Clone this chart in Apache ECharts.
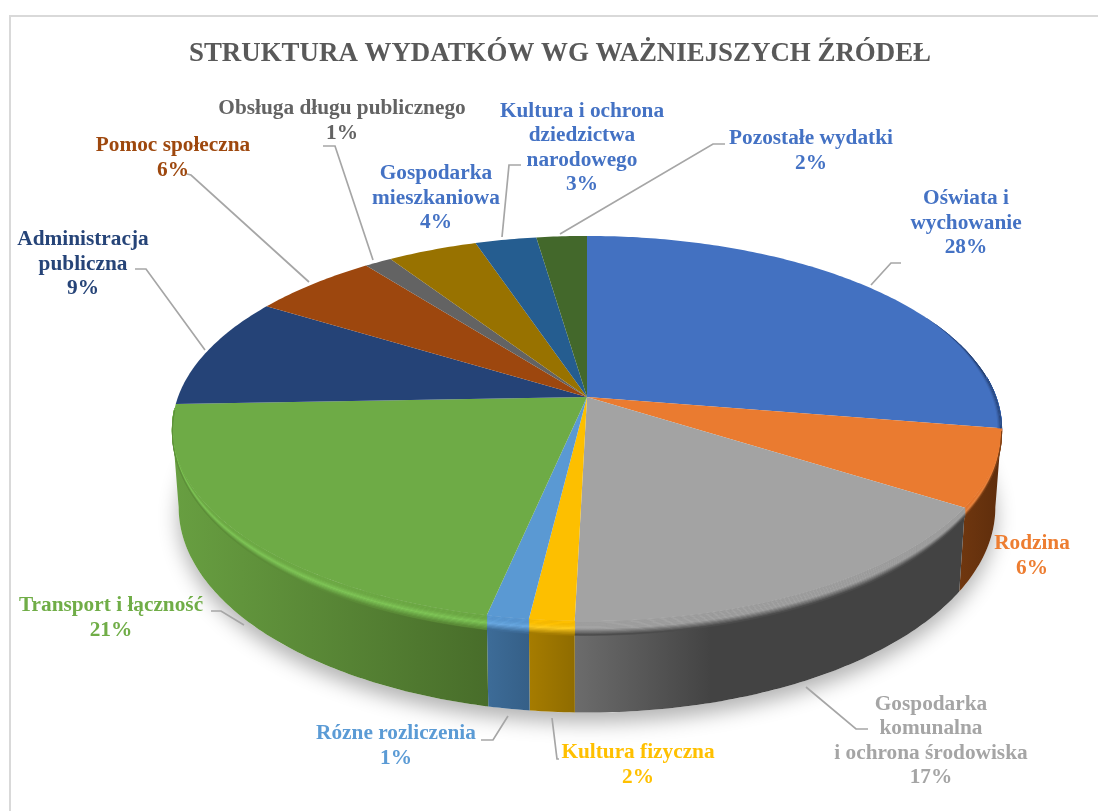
<!DOCTYPE html>
<html><head><meta charset="utf-8">
<style>html,body{margin:0;padding:0;background:#fff}#c{width:1098px;height:811px}</style>
<script src="https://cdn.jsdelivr.net/npm/echarts@6/dist/echarts.min.js"></script>
</head><body><div id="c"></div>
<script>
// ---- data ----
const categories = ['Oświata i\nwychowanie','Rodzina','Gospodarka\nkomunalna\ni ochrona środowiska','Kultura fizyczna','Rózne rozliczenia','Transport i łączność','Administracja\npubliczna','Pomoc społeczna','Obsługa długu publicznego','Gospodarka\nmieszkaniowa','Kultura i ochrona\ndziedzictwa\nnarodowego','Pozostałe wydatki'];
const shares = [27.6,6.45,16.35,1.5,1.4,21.1,9.4,5.75,1.25,4.1,2.8,2.3];
const printedPercent = [28,6,17,2,1,21,9,6,1,4,3,2];
// ---- styles ----
const topColors  = ['#4371c1','#ea7b30','#a3a3a3','#fdbf00','#5a99d3','#6eab46','#254377','#9d470e','#636363','#987200','#255d90','#43682b'];
const rimColors  = ['#4f7fd0','#ee8a44','#a3a3a3','#ffcc20','#6aa9e2','#80c858','#254377','#9d470e','#636363','#987200','#255d90','#43682b'];
const wallLeft   = ['#2a4a84','#70370f','#6c6c6c','#a67c00','#3d6c98','#689f41','#1f3864','#7a370b','#4a4a4a','#735600','#1c4a70','#334f20'];
const wallRight  = ['#1f3864','#5e2d0c','#434343','#8f6c00','#355f87','#486d2a','#1f3864','#7a370b','#4a4a4a','#735600','#1c4a70','#334f20'];
const labelColors= ['#4472c4','#ed7d31','#a5a5a5','#ffc000','#5b9bd5','#70ad47','#264478','#9e480e','#636363','#4472c4','#4472c4','#4472c4'];
// ---- layout ----
const labelCenters = [[966,223],[1032,556],[931,741],[638,765],[396,746],[111,618],[83,264],[173,158],[342,121],[436,198],[582,148],[811,151]];
const leaderPaths = [
 [[901,263],[891,263],[871,285]], null,
 [[868,729],[856,729],[806,687]],
 [[552,718],[557,759],[559,759]],
 [[481,740],[493,740],[508,716]],
 [[211,611],[221,611],[244,625]],
 [[135,269],[146,269],[205,350]],
 [[187,174],[191,175],[309,282]],
 [[323,146],[335,146],[373,260]],
 null,
 [[521,165],[509,165],[502,237]],
 [[725,144],[713,144],[560,234]],
];
const CX=587, CY=397, RX=409, RY=187.4, K=0.1636, WALL=76.5, BEVEL=12;
const SIL_R=99.4, SIL_L=260.6; // angles where the projected rim is widest

const d2r=Math.PI/180;
function proj(deg, drop, shrink){
  const x=Math.sin(deg*d2r), y=-Math.cos(deg*d2r);
  const s=1/(1-K*y);
  const r=shrink||1;
  return [CX+RX*x*s*r, CY+RY*y*s+drop*s];
}
function bev(deg){
  const y=-Math.cos(deg*d2r);
  return BEVEL*Math.max(0,Math.min(1,(y+0.1)/0.9));
}
function arc(a,b,fn){
  const out=[], n=Math.max(2,Math.ceil((b-a)/0.75));
  for(let i=0;i<=n;i++){const d=a+(b-a)*i/n; out.push(fn(d));}
  return out;
}
function hex(c){return [1,3,5].map(i=>parseInt(c.substr(i,2),16));}
function mix(a,b,t){const A=hex(a),B=hex(b);return 'rgb('+A.map((v,i)=>Math.round(v+(B[i]-v)*t)).join(',')+')';}
function mixHex(a,b,t){const A=hex(a),B=hex(b);return '#'+A.map((v,i)=>Math.round(v+(B[i]-v)*t).toString(16).padStart(2,'0')).join('');}
const total=shares.reduce((a,b)=>a+b,0);
const starts=[]; shares.reduce((acc,v,i)=>{starts[i]=acc;return acc+v;},0);

function renderShadow(params){
  if(params.dataIndex!==0) return {type:'group',children:[]};
  const ring=arc(0,360,d=>proj(d,WALL,0.985));
  return {type:'polygon',z2:0,shape:{points:ring},silent:true,
    style:{fill:'#fff',shadowColor:'rgba(0,0,0,0.30)',shadowBlur:20,shadowOffsetY:10}};
}
function renderSlice(params,api){
  const i=params.dataIndex;
  const a0=starts[i]/total*360, a1=a0+api.value(0)/total*360;
  const children=[];
  // side wall, between the two silhouette angles
  const wa=Math.max(a0,SIL_R), wb=Math.min(a1,SIL_L);
  if(wb>wa){
    const top=arc(wa,wb,d=>proj(d,0));
    const bot=arc(wa,wb,d=>proj(d,WALL,0.985)).reverse();
    children.push({type:'polygon',z2:1,shape:{points:top.concat(bot)},
      style:{fill:new echarts.graphic.LinearGradient(0,0,1,0,[
        {offset:0,color:wallLeft[i]},{offset:i===2?0.35:1,color:wallRight[i]},{offset:1,color:wallRight[i]}])}});
  }
  // top face
  const face=[[CX,CY]].concat(arc(a0,a1,d=>proj(d,0)));
  children.push({type:'polygon',z2:2,shape:{points:face},style:{fill:topColors[i]}});
  // dark fringe on the far right edge
  if(i===0){
    const steps=[[0.990,0.15],[0.993,0.4],[0.996,0.7],[0.998,0.95]];
    steps.forEach(st=>{
      const ea=62, eb=a1;
      const outer=arc(ea,eb,d=>proj(d,0));
      const inner=arc(ea,eb,d=>proj(d,0,1-(1-st[0])*Math.min(1,(d-ea)/20))).reverse();
      children.push({type:'polygon',z2:3,shape:{points:outer.concat(inner)},
        style:{fill:mix(topColors[0],wallRight[0],st[1])}});
    });
  }
  // bevelled rim: thin bands from the flat edge down onto the wall
  const ra=Math.max(a0,84), rb=Math.min(a1,SIL_L+6);
  if(rb>ra){
    const N=12;
    const end=i===2?wallRight[i]:mixHex(wallLeft[i],wallRight[i],0.5);
    for(let b=0;b<N;b++){
      const t0=b/N,t1=(b+1)/N,m=(t0+t1)/2;
      const upper=arc(ra,rb,d=>proj(d,bev(d)*t0));
      const lower=arc(ra,rb,d=>proj(d,bev(d)*t1)).reverse();
      let col;
      if(m<0.25) col=topColors[i];
      else if(m<0.55) col=mix(topColors[i],rimColors[i],(m-0.25)/0.3);
      else col=mix(rimColors[i],end,(m-0.55)/0.45);
      children.push({type:'polygon',z2:3,shape:{points:upper.concat(lower)},
        style:{fill:col,stroke:col,lineWidth:0.5}});
    }
  }
  // leader
  if(leaderPaths[i]){
    children.push({type:'polyline',z2:4,shape:{points:leaderPaths[i]},
      style:{fill:null,stroke:'#a6a6a6',lineWidth:1.7}});
  }
  // label
  const c=labelCenters[i];
  children.push({type:'text',z2:5,style:{
    text:categories[i]+'\n'+printedPercent[i]+'%',x:c[0],y:c[1],
    align:'center',verticalAlign:'middle',fill:labelColors[i],
    fontFamily:'Liberation Serif',fontWeight:'bold',fontSize:21.3,lineHeight:24.6}});
  return {type:'group',children};
}

const chart=echarts.init(document.getElementById('c'),null,{renderer:'canvas'});
chart.setOption({
  animation:false,
  backgroundColor:'#fff',
  title:{text:'STRUKTURA WYDATKÓW WG WAŻNIEJSZYCH ŹRÓDEŁ',left:555,top:36,textAlign:'center',
    textStyle:{fontFamily:'Liberation Serif',fontWeight:'bold',fontSize:26.9,color:'#595959'}},
  graphic:[
    {type:'polyline',silent:true,shape:{points:[[10,811],[10,16],[1098,16]]},style:{fill:null,stroke:'#d9d9d9',lineWidth:2}}
  ],
  series:[
    {type:'custom',coordinateSystem:'none',z:1,silent:true,renderItem:renderShadow,data:shares.map(v=>[v])},
    {type:'custom',coordinateSystem:'none',z:2,silent:true,renderItem:renderSlice,data:shares.map(v=>[v])}
  ]
});
</script></body></html>
